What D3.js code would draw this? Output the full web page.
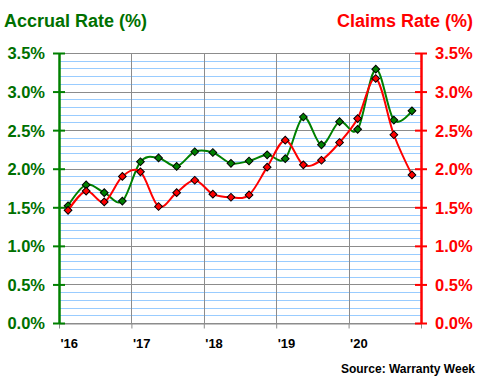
<!DOCTYPE html>
<html>
<head>
<meta charset="utf-8">
<script src="https://cdn.jsdelivr.net/npm/d3@7"></script>
<style>
  html, body { margin: 0; padding: 0; background: #fff; }
  svg { display: block; font-family: "Liberation Sans", Arial, sans-serif; }
</style>
</head>
<body>
<svg id="chart" width="480" height="380"></svg>
<script>
// quarterly data, 2016 Q1 .. 2020 Q4
const quarters = [
  '2016 Q1','2016 Q2','2016 Q3','2016 Q4',
  '2017 Q1','2017 Q2','2017 Q3','2017 Q4',
  '2018 Q1','2018 Q2','2018 Q3','2018 Q4',
  '2019 Q1','2019 Q2','2019 Q3','2019 Q4',
  '2020 Q1','2020 Q2','2020 Q3','2020 Q4',
];
const accrualRate = [1.52, 1.79, 1.69, 1.58, 2.09, 2.14, 2.03, 2.22, 2.21, 2.07,
                     2.10, 2.18, 2.13, 2.67, 2.31, 2.61, 2.51, 3.29, 2.63, 2.75];
const claimsRate  = [1.46, 1.71, 1.57, 1.90, 1.96, 1.51, 1.69, 1.85, 1.67, 1.63,
                     1.66, 2.02, 2.37, 2.05, 2.11, 2.34, 2.65, 3.17, 2.44, 1.92];
const years = [2016, 2017, 2018, 2019, 2020, 2021];
const yTicks = [0, 0.5, 1, 1.5, 2, 2.5, 3, 3.5];

const GREEN = '#008000', GREEN_TXT = '#007000', RED = '#ff0000';

const L = 59, R = 421, T = 53, B = 323;
const svg = d3.select('#chart');

const x = d3.scaleLinear().domain([2016, 2021]).range([L, R]);
const y = d3.scaleLinear().domain([0, 3.5]).range([B, T]);   // accrual
const y2 = d3.scaleLinear().domain([0, 3.5]).range([B, T]);  // claims

// quarter label -> position in years (middle of the quarter)
const qPos = q => { const [yr, qq] = q.split(' Q'); return +yr + (+qq - 0.5) / 4; };

// grid
const grid = svg.append('g');
grid.selectAll('.minor').data(d3.range(1, 35).filter(i => i % 5)).enter()
  .append('line')
  .attr('x1', L).attr('x2', R)
  .attr('y1', i => Math.round(y(i / 10)) + 0.5).attr('y2', i => Math.round(y(i / 10)) + 0.5)
  .attr('stroke', '#99ccff').attr('stroke-width', 1);
grid.selectAll('.major').data(yTicks).enter()
  .append('line')
  .attr('x1', L).attr('x2', R)
  .attr('y1', d => Math.round(y(d)) + 0.5).attr('y2', d => Math.round(y(d)) + 0.5)
  .attr('stroke', '#8c8c8c').attr('stroke-width', 1);
grid.selectAll('.vert').data(years.slice(1, -1)).enter()
  .append('line')
  .attr('x1', d => Math.round(x(d)) + 0.5).attr('x2', d => Math.round(x(d)) + 0.5)
  .attr('y1', T).attr('y2', B)
  .attr('stroke', '#8c8c8c').attr('stroke-width', 1);

// bottom axis
const xAxis = svg.append('g').attr('transform', `translate(0,${Math.round(B) + 0.5})`)
  .call(d3.axisBottom(x).tickValues(years).tickSize(5).tickSizeOuter(0)
    .tickFormat(d => d === 2021 ? '' : "'" + String(d).slice(2)));
xAxis.select('.domain').attr('stroke', '#8c8c8c');
xAxis.selectAll('.tick line').attr('stroke', '#8c8c8c');
xAxis.selectAll('.tick text')
  .attr('text-anchor', 'start').attr('x', 1).attr('y', 15)
  .attr('font-size', 13).attr('font-weight', 'bold').attr('fill', '#000');

// left / right axes
function styleAxis(g, color, side) {
  g.select('.domain').attr('stroke', color).attr('stroke-width', 2.5);
  g.selectAll('.tick line').attr('stroke', color).attr('stroke-width', 2)
    .attr('x1', side * 6).attr('x2', -side * 6);
  g.selectAll('.tick text').attr('fill', color === GREEN ? GREEN_TXT : color)
    .attr('font-size', 16.5).attr('font-weight', 'bold')
    .attr('x', -side * 14).attr('dy', '0.36em');
}
const fmt = d => d.toFixed(1) + '%';
svg.append('g').attr('transform', `translate(${L},0)`)
  .call(d3.axisLeft(y).tickValues(yTicks).tickFormat(fmt).tickSizeOuter(0))
  .call(g => styleAxis(g, GREEN, 1));
svg.append('g').attr('transform', `translate(${R},0)`)
  .call(d3.axisRight(y2).tickValues(yTicks).tickFormat(fmt).tickSizeOuter(0))
  .call(g => styleAxis(g, RED, -1));

// series
const curve = d3.curveCardinal.tension(0);
function drawSeries(values, yScale, color) {
  const pts = quarters.map((q, i) => [x(qPos(q)), yScale(values[i])]);
  svg.append('path').datum(pts)
    .attr('d', d3.line().curve(curve))
    .attr('fill', 'none').attr('stroke', color).attr('stroke-width', 2);
  svg.append('g').selectAll('path').data(pts).enter().append('path')
    .attr('d', d3.symbol(d3.symbolSquare, 30))
    .attr('transform', d => `translate(${d[0]},${d[1]}) rotate(45)`)
    .attr('fill', color).attr('stroke', '#000').attr('stroke-width', 1);
}
drawSeries(accrualRate, y, GREEN);
drawSeries(claimsRate, y2, RED);

// titles
svg.append('text').attr('x', 4).attr('y', 27)
  .attr('font-size', 18).attr('font-weight', 'bold').attr('fill', GREEN_TXT)
  .text('Accrual Rate (%)');
svg.append('text').attr('x', 473).attr('y', 27).attr('text-anchor', 'end')
  .attr('font-size', 18).attr('font-weight', 'bold').attr('fill', RED)
  .text('Claims Rate (%)');
svg.append('text').attr('x', 475).attr('y', 373).attr('text-anchor', 'end')
  .attr('font-size', 12).attr('font-weight', 'bold').attr('fill', '#000')
  .text('Source: Warranty Week');
</script>
</body>
</html>
